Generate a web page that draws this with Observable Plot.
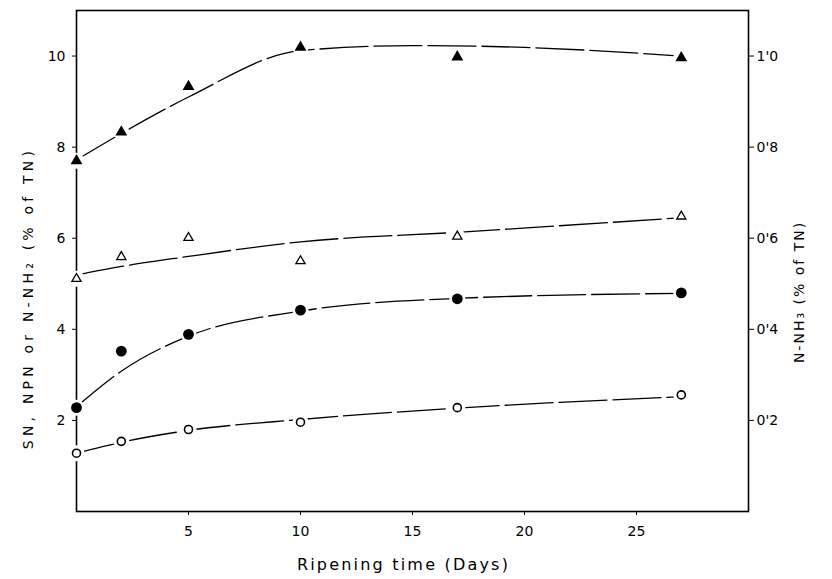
<!DOCTYPE html>
<html>
<head>
<meta charset="utf-8">
<script src="https://cdn.jsdelivr.net/npm/d3@7"></script>
<script src="https://cdn.jsdelivr.net/npm/@observablehq/plot@0.6"></script>
<style>
  body { margin: 0; background: #fff; }
  #chart svg { display: block; }
</style>
</head>
<body>
<div id="chart"></div>
<script>
// ---- data ----
const days = [0, 2, 5, 10, 17, 27];
const filledTriangles = [7.70, 8.33, 9.33, 10.19, 9.98, 9.96];
const openTriangles   = [5.11, 5.59, 6.01, 5.50, 6.04, 6.48];
const filledCircles   = [2.28, 3.52, 3.89, 4.42, 4.67, 4.80];
const openCircles     = [1.28, 1.54, 1.80, 1.96, 2.28, 2.56];

// fitted (hand-drawn) curves
const curveDaysTop = [0, 2, 5, 10, 15, 20, 27];
const curveFilledTriangles = [7.72, 8.30, 9.10, 10.12, 10.23, 10.19, 10.00];
const curveDays = [0, 2, 5, 10, 17, 27];
const curveOpenTriangles = [5.19, 5.38, 5.60, 5.92, 6.13, 6.45];
const curveFilledCircles = [2.30, 3.08, 3.85, 4.40, 4.68, 4.79];
const curveOpenCircles   = [1.28, 1.52, 1.78, 2.02, 2.27, 2.52];

const xTicks = [5, 10, 15, 20, 25];
const yTicks = [2, 4, 6, 8, 10];

const xLabel = "Ripening time (Days)";
const yLabelLeft = "SN, NPN or N-NH\u2082 (% of TN)";
const yLabelRight = "N-NH\u2083 (% of TN)";

// ---- build tables ----
const toRows = (xs, ys, series) => xs.map((d, i) => ({day: d, value: ys[i], series}));
const curves = [
  ...toRows(curveDaysTop, curveFilledTriangles, "filledTriangles"),
  ...toRows(curveDays, curveOpenTriangles, "openTriangles"),
  ...toRows(curveDays, curveFilledCircles, "filledCircles"),
  ...toRows(curveDays, curveOpenCircles, "openCircles")
];
const fT = toRows(days, filledTriangles, "filledTriangles");
const oT = toRows(days, openTriangles, "openTriangles");
const fC = toRows(days, filledCircles, "filledCircles");
const oC = toRows(days, openCircles, "openCircles");
const allPoints = [...fT, ...oT, ...fC, ...oC];

const font = "'DejaVu Sans', sans-serif";
const rightFmt = d => (d / 10).toFixed(1).replace(".", "'");

const chart = Plot.plot({
  width: 832,
  height: 579,
  marginLeft: 76,
  marginRight: 84,
  marginTop: 10,
  marginBottom: 68,
  style: {fontFamily: font, fontSize: "14px", color: "black", background: "white"},
  x: {domain: [0, 30]},
  y: {domain: [0, 11]},
  marks: [
    Plot.axisX({ticks: xTicks, tickSize: 4, tickPadding: 11, label: null, fontSize: 14}),
    Plot.axisY({anchor: "left", ticks: yTicks, tickSize: 4, tickPadding: 7, label: null, fontSize: 14}),
    Plot.axisY({anchor: "right", ticks: yTicks, tickSize: 5, tickPadding: 3, tickFormat: rightFmt, label: null, fontSize: 14}),
    Plot.frame({stroke: "black", strokeWidth: 1.6}),
    Plot.line(curves, {x: "day", y: "value", z: "series", curve: "monotone-x",
      stroke: "black", strokeWidth: 1.3, strokeDasharray: "48 6"}),
    Plot.dot(allPoints, {x: "day", y: "value", r: 8, fill: "white", stroke: "none"}),
    Plot.dot(fT, {x: "day", y: "value", symbol: "triangle", r: 4.4, fill: "black", stroke: "none"}),
    Plot.dot(oT, {x: "day", y: "value", symbol: "triangle", r: 3.4, fill: "white", stroke: "black", strokeWidth: 1.3}),
    Plot.dot(fC, {x: "day", y: "value", symbol: "circle", r: 5.4, fill: "black", stroke: "none"}),
    Plot.dot(oC, {x: "day", y: "value", symbol: "circle", r: 4, fill: "white", stroke: "black", strokeWidth: 1.6}),
    Plot.text([yLabelLeft], {text: d => d, frameAnchor: "left", rotate: -90, dx: -48, dy: 37,
      fontSize: 14, textAnchor: "middle", lineAnchor: "middle", fill: "black"}),
    Plot.text([yLabelRight], {text: d => d, frameAnchor: "right", rotate: -90, dx: 51, dy: 31,
      fontSize: 14, textAnchor: "middle", lineAnchor: "middle", fill: "black"}),
    Plot.text([xLabel], {text: d => d, frameAnchor: "bottom", dx: -9, dy: 53,
      fontSize: 16, textAnchor: "middle", lineAnchor: "middle", fill: "black"})
  ]
});

// letter spacing of the axis titles, as in the typeset original
const spacing = new Map([[yLabelLeft, "4.2px"], [yLabelRight, "2px"], [xLabel, "2.2px"]]);
d3.select(chart).selectAll("text").each(function() {
  const s = spacing.get(this.textContent);
  if (s) this.style.letterSpacing = s;
});

document.getElementById("chart").appendChild(chart);
</script>
</body>
</html>
